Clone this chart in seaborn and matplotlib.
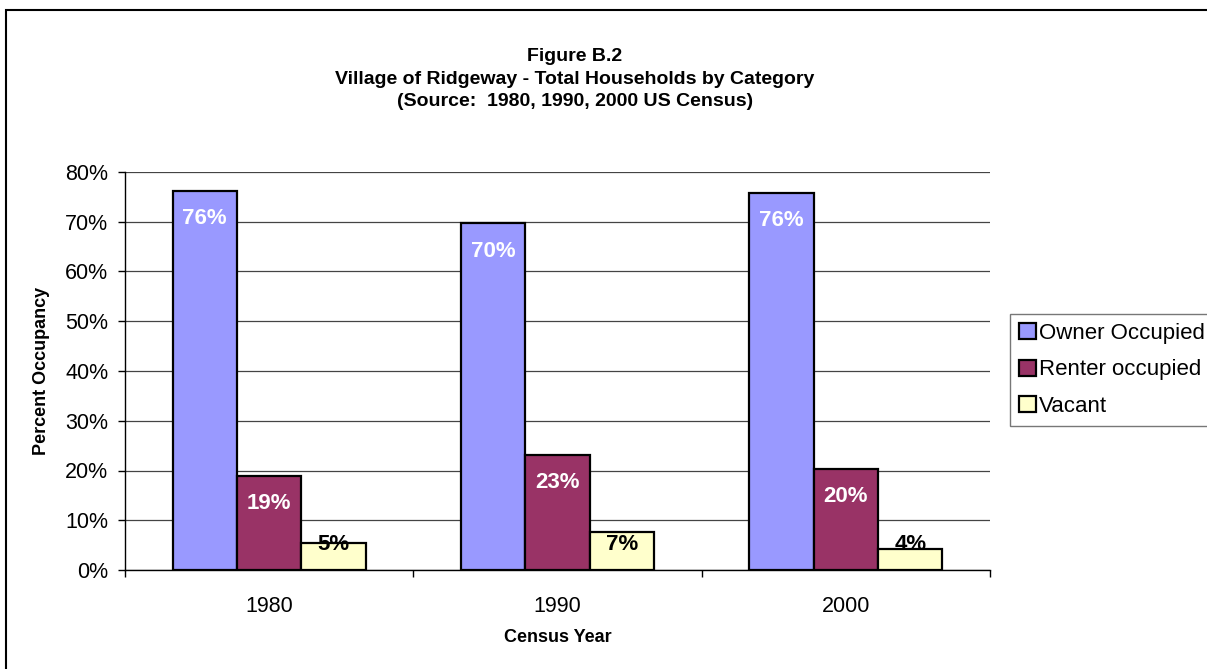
import matplotlib
matplotlib.use("Agg")
import matplotlib.pyplot as plt
import matplotlib.ticker as mticker
from matplotlib.patches import Rectangle
import pandas as pd
import seaborn as sns

years = ["1980", "1990", "2000"]
categories = ["Owner Occupied", "Renter occupied", "Vacant"]
owner = [0.762, 0.697, 0.758]
renter = [0.189, 0.231, 0.203]
vacant = [0.054, 0.076, 0.043]
labels = {"Owner Occupied": ["76%", "70%", "76%"],
          "Renter occupied": ["19%", "23%", "20%"],
          "Vacant": ["5%", "7%", "4%"]}
colors = ["#9999FF", "#993366", "#FFFFCC"]

df = pd.DataFrame({
    "year": years * 3,
    "cat": [c for c in categories for _ in years],
    "val": owner + renter + vacant,
})

sns.set_theme(style="white")
plt.rcParams["font.family"] = ["Liberation Sans", "DejaVu Sans"]
plt.rcParams.update({"text.color": "black", "axes.labelcolor": "black",
                     "xtick.color": "black", "ytick.color": "black"})

fig = plt.figure(figsize=(12.07, 6.69), dpi=100)
ax = fig.add_axes([125 / 1207, 99 / 669, 865 / 1207, 398 / 669])

sns.barplot(data=df, x="year", y="val", hue="cat", palette=colors,
            width=0.67, gap=0, edgecolor="black", linewidth=1.6,
            saturation=1, legend=False, ax=ax, zorder=3)

ax.set_ylim(0, 0.8)
ax.set_xlim(-0.5, 2.5)
ax.yaxis.set_major_locator(mticker.MultipleLocator(0.1))
ax.yaxis.set_major_formatter(mticker.PercentFormatter(1.0, decimals=0))
ax.grid(axis="y", color="#444444", linewidth=0.9, zorder=0)
ax.set_axisbelow(True)
for s in ["top", "right"]:
    ax.spines[s].set_visible(False)
for s in ["left", "bottom"]:
    ax.spines[s].set_color("black")
    ax.spines[s].set_linewidth(1.0)

ax.tick_params(axis="y", which="major", left=True, length=5, width=1,
               color="black", labelsize=15.5, pad=7)
ax.tick_params(axis="x", which="major", bottom=False, labelsize=15.5, pad=13)
ax.set_xticks([-0.5, 0.5, 1.5, 2.5], minor=True)
ax.tick_params(axis="x", which="minor", bottom=True, length=5, width=1, color="black")

ax.set_xlabel("Census Year", fontsize=13, fontweight="bold", labelpad=8)
ax.set_ylabel("Percent Occupancy", fontsize=13, fontweight="bold", labelpad=11)

# bar labels: inside the bar top; short bars get clamped above the axis
for container, cat in zip(ax.containers, categories):
    for bar, txt in zip(container, labels[cat]):
        x = bar.get_x() + bar.get_width() / 2
        h = bar.get_height()
        if cat == "Vacant":
            ax.annotate(txt, (x, 0), xytext=(0, 18), textcoords="offset points",
                        ha="center", va="center", fontsize=16,
                        fontweight="bold", color="black", zorder=5)
        else:
            ax.annotate(txt, (x, h), xytext=(0, -20), textcoords="offset points",
                        ha="center", va="center", fontsize=16,
                        fontweight="bold", color="white", zorder=5)

fig.text(575 / 1207, 1 - 79 / 669,
         "Figure B.2\nVillage of Ridgeway - Total Households by Category\n(Source:  1980, 1990, 2000 US Census)",
         ha="center", va="center", fontsize=14, fontweight="bold",
         linespacing=1.4)

handles = [Rectangle((0, 0), 1, 1, facecolor=c, edgecolor="black", linewidth=1.6)
           for c in colors]
leg = fig.legend(handles, categories, loc="upper left",
                 bbox_to_anchor=(1010 / 1207, 1 - 314 / 669),
                 fontsize=16, frameon=True, fancybox=False,
                 handlelength=0.75, handleheight=0.75, handletextpad=0.15,
                 labelspacing=0.7, borderpad=0.4, borderaxespad=0)
leg.get_frame().set_edgecolor("#555555")
leg.get_frame().set_linewidth(1.0)

fig.patches.append(Rectangle((6 / 1207, -0.1), 1.2, 1 - 10 / 669 + 0.1,
                             transform=fig.transFigure, fill=False,
                             edgecolor="black", linewidth=1.5))

fig.savefig("out.png", dpi=100)
